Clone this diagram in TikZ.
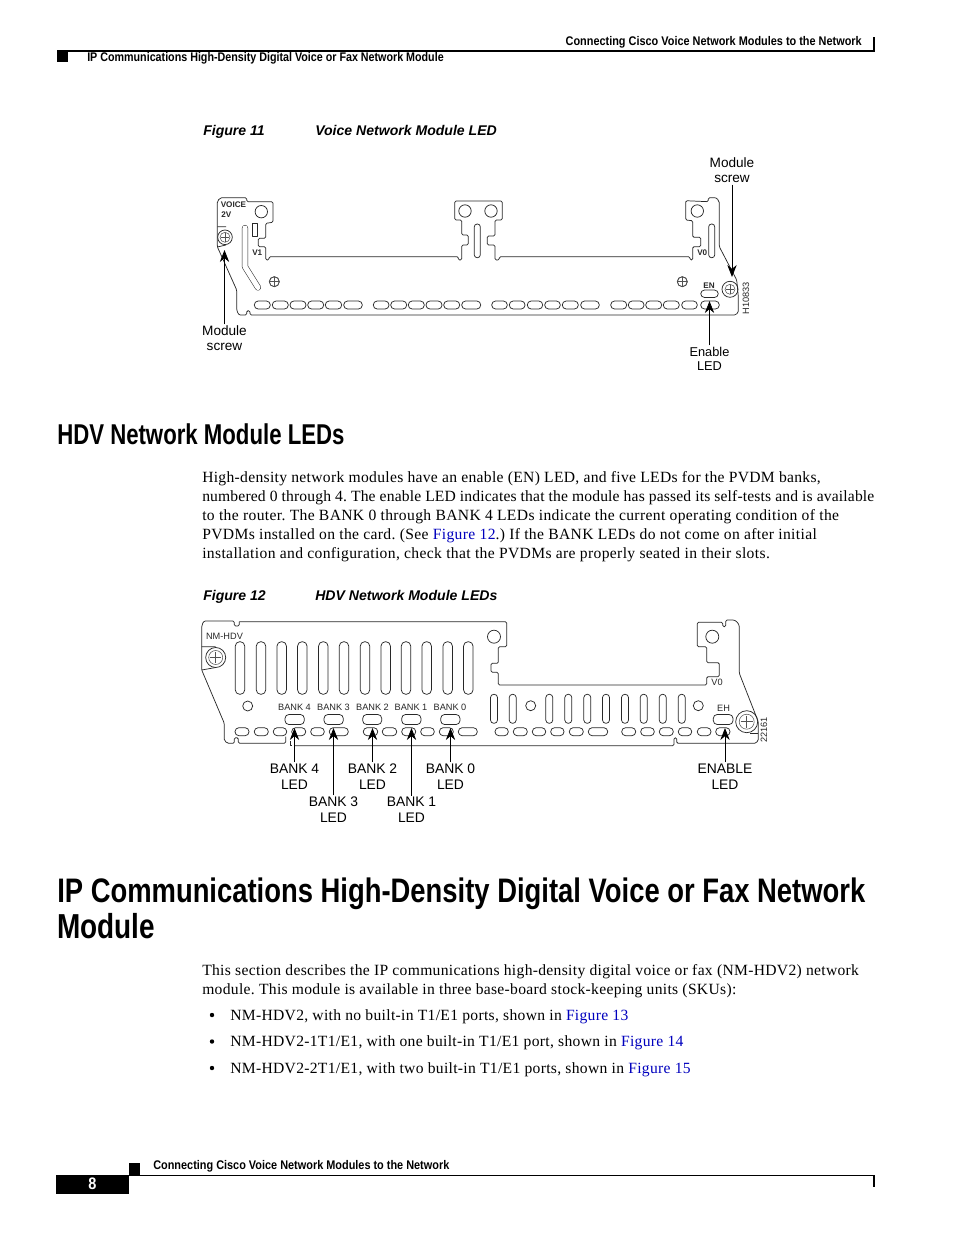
\documentclass[tikz,border=0pt]{standalone}
\usepackage{fontspec}
\usetikzlibrary{arrows.meta}
\setmainfont{Liberation Serif}
\newfontfamily\lab{Liberation Sans}
\newfontfamily\condh[FakeStretch=0.87]{Liberation Sans}
\newfontfamily\condl[FakeStretch=0.855]{Liberation Sans}
\newfontfamily\conda[FakeStretch=0.774]{Liberation Sans}
\newfontfamily\condb[FakeStretch=0.806]{Liberation Sans}
\newfontfamily\spaced[LetterSpace=2.0]{Liberation Serif}
\newfontfamily\spacedw[LetterSpace=2.3]{Liberation Serif}
\newfontfamily\spacedn[LetterSpace=1.0]{Liberation Serif}
\definecolor{linkblue}{RGB}{0,0,190}
\definecolor{inkg}{RGB}{40,40,40}
\newcommand\fs[1]{\fontsize{#1}{#1}\selectfont}
\frenchspacing
\tikzset{
 x=0.75pt,y=-0.75pt,
 body/.style={anchor=base west,inner sep=0pt,font=\spaced\frenchspacing\fs{11.7}},
 bodyw/.style={anchor=base west,inner sep=0pt,font=\spacedw\frenchspacing\fs{11.7}},
 bodyn/.style={anchor=base west,inner sep=0pt,font=\spacedn\frenchspacing\fs{11.7}},
 figcap/.style={anchor=base west,inner sep=0pt,font=\lab\bfseries\itshape\fs{10.55}},
 hdr/.style={anchor=base west,inner sep=0pt,font=\condh\bfseries\fs{9.4}},
 hdrl/.style={anchor=base west,inner sep=0pt,font=\condl\bfseries\fs{9.4}},
 headA/.style={anchor=base west,inner sep=0pt,font=\conda\bfseries\fs{21.5}},
 headB/.style={anchor=base west,inner sep=0pt,font=\condb\bfseries\fs{25.5}},
 lbl/.style={align=center,inner sep=1pt,font=\lab\fontsize{10.4}{12.2}\selectfont,text=black},
 lbls/.style={align=center,inner sep=1pt,font=\lab\fontsize{9.6}{10.5}\selectfont,text=black},
 lblm/.style={align=center,inner sep=1pt,font=\lab\fontsize{10.2}{11.3}\selectfont,text=black},
 tinylab/.style={inner sep=0pt,font=\lab\fs{6.9},text=inkg},
 tinyb/.style={inner sep=0pt,font=\lab\bfseries\fs{6.1},text=inkg},
 part/.style={draw=inkg,line width=0.55pt,line join=round},
 thinpart/.style={draw=inkg!80,line width=0.4pt},
 pointer/.style={draw=black,line width=0.6pt,-{Stealth[length=9pt,width=7pt]}},
 blk/.style={fill=black,draw=none}
}
\newcommand\pills[3]{\foreach \a/\b in {#3}{\draw[part,rounded corners=2.9pt] (\a,#1) rectangle (\b,#2);}}
\newcommand\slots[4]{\foreach \c in {#4}{\draw[part,rounded corners=#3*0.35pt] ({\c-#3/2},#1) rectangle ({\c+#3/2},#2);}}
\newcommand\screwhead[5]{%
 \draw[part] (#1,#2) circle[radius=#3];
 \draw[thinpart] (#1,#2) circle[radius=#4];
 \draw[thinpart] ({#1-#5},#2) -- ({#1+#5},#2) ({#1},{#2-#5}) -- ({#1},{#2+#5});}
\begin{document}
\begin{tikzpicture}
\useasboundingbox (0,0) rectangle (954,1235);
\fill[white] (0,0) rectangle (954,1235);
% page header
\fill[blk] (57,51) rectangle (68,62);
\draw[line width=0.9pt] (57,51) -- (875,51);
\draw[line width=0.9pt] (874,37) -- (874,51);
\node[hdr,anchor=base east] (hdrR) at (862,45) {Connecting Cisco Voice Network Modules to the Network};
\node[hdrl] (hdrL) at (87,61) {IP Communications High-Density Digital Voice or Fax Network Module};
% figure 11 caption
\node[figcap] (cap11) at (203,135) {Figure 11};
\node[figcap] (cap11t) at (315,135) {Voice Network Module LED};
% figure 11 body
\draw[part,rounded corners=1pt]
 (246.7,197.7) -- (223,197.7) to[out=180,in=90] (217.3,204) -- (217.3,246.7) -- (236.7,290) -- (236.7,306.7)
 to[out=-90,in=180] (241.7,315) -- (246.7,315) -- (246.7,310.7) -- (250,310.7) -- (250,315) -- (733,315)
 to[out=0,in=-90] (738.3,310) -- (738.3,296.7) -- (736.7,280) -- (719.3,246.7) -- (719.3,204)
 to[out=90,in=0] (713.3,197.7) -- (708.3,197.7) -- (708.3,201.7) -- (685.7,200.7) -- (685.7,220) -- (692.7,220.7)
 -- (692.7,237.3) -- (700.7,237.3) -- (700.7,246.7) -- (692.7,246.7) -- (692.7,260) -- (690,260) -- (690,256.7)
 -- (499.3,256.7) -- (499.3,260) -- (495,260) -- (495,245) -- (487.3,245) -- (487.3,236) -- (495,236) -- (495,220)
 -- (502.3,220) -- (502.3,201) -- (454.7,201) -- (454.7,220) -- (461.7,220) -- (461.7,235) -- (468.3,235)
 -- (468.3,245) -- (461.7,245) -- (461.7,260) -- (458.3,260) -- (458.3,256.7) -- (269,256.7) -- (269,260)
 -- (265.7,260) -- (265.7,246.7) -- (258.3,246.7) -- (258.3,238.3) -- (265.7,238.3) -- (265.7,223.3) -- (273,222.3)
 -- (273,201.7) -- (246.7,201.7) -- cycle;
\foreach \c/\d in {261.3/211.7,465/211,491/211,697.3/211}{\draw[part] (\c,\d) circle[radius=6.2];}
\slots{224}{257.7}{6}{477.3,711.7}
\draw[part] (252.3,223.3) rectangle (257.7,236.7);
\draw[line width=4.6pt,inkg,line cap=round,line join=round] (245,228) -- (245,266.7) -- (258,287.5);
\draw[line width=3.8pt,white,line cap=round,line join=round] (245,228) -- (245,266.7) -- (258,287.5);
\pills{301}{309}{254.3/270.3,272.3/288.3,290/306,307.7/323.7,325.3/341.7,343.7/362.3,373.3/389,390.7/406.7,408.3/424.3,426/442,443.7/459.7,461.7/480.7,491.7/507.3,509.3/525,527.3/542.7,544.7/560.3,562.3/578.3,580.7/599.3,610.7/626.7,628.3/644,645.7/661.7,663.3/679.3,681.7/697.3,700.7/719.3}
\pills{290}{297.5}{700.7/718.3}
\screwhead{225}{237.3}{7.3}{5}{4.2}
\draw[part] (217.3,226.7) -- (226,226.7) (217.3,247) -- (226,245);
\screwhead{274.3}{281.7}{5}{5}{4.6}
\screwhead{682.3}{281.7}{5}{5}{4.6}
\screwhead{730}{289.3}{8}{5}{4.2}
\node[tinyb,anchor=base west] (tVoice) at (220.5,207.5) {VOICE};
\node[tinyb,anchor=base west] (t2v) at (221,217.5) {2V};
\node[tinyb,anchor=base west] (tV1) at (252,255.5) {V1};
\node[tinyb,anchor=base west] (tV0) at (697,255.5) {V0};
\node[tinyb] (tEN) at (709,285.5) {EN};
\node[tinylab,rotate=90] (h10833) at (746,298) {H10833};
\node[lblm] (msR) at (732,170.5) {Module\\screw};
\node[lblm] (msL) at (224.5,338.5) {Module\\screw};
\node[lbls] (enL) at (709.5,358.7) {Enable\\LED};
\coordinate (msRtip) at (732,277);
\coordinate (msLtip) at (224.5,250);
\coordinate (enLtip) at (709.5,301);
\draw[pointer] (msR.south) -- (msRtip);
\draw[pointer] (msL.north) -- (msLtip);
\draw[pointer] (enL.north) -- (enLtip);
% HDV section
\node[headA] (hdvH) at (57,444) {HDV Network Module LEDs};
\node[body] (p1) at (202,482) {High-density network modules have an enable (EN) LED, and five LEDs for the PVDM banks,};
\node[bodyn] (p2) at (202,501) {numbered 0 through 4. The enable LED indicates that the module has passed its self-tests and is available};
\node[bodyw] (p3) at (202,520) {to the router. The BANK 0 through BANK 4 LEDs indicate the current operating condition of the};
\node[bodyw] (p4) at (202,539) {PVDMs installed on the card. (See {\color{linkblue}Figure 12}.) If the BANK LEDs do not come on after initial};
\node[bodyw] (p5) at (202,558) {installation and configuration, check that the PVDMs are properly seated in their slots.};
% figure 12 caption
\node[figcap] (cap12) at (203,600) {Figure 12};
\node[figcap] (cap12t) at (315,600) {HDV Network Module LEDs};
% figure 12 body
\draw[part,rounded corners=1pt]
 (239.3,621.7) -- (506.7,621.7) -- (506.7,646.7) -- (498.3,646.7) -- (498.3,663.3) -- (491,663.3) -- (491,672.3)
 -- (498.3,672.3) -- (498.3,685) -- (706.7,685) -- (706.7,676.7) -- (719.3,676.7) -- (719.3,662.7) -- (706.7,662.7)
 -- (706.7,646.7) -- (697.3,646.7) -- (697.3,622.3) -- (722.7,622.3) -- (722.7,626.7) -- (725.7,626.7) -- (725.7,620)
 -- (731.7,620) to[out=0,in=90] (739.3,628.3) -- (739.3,673.3) -- (758.3,721.7) -- (758.3,738)
 to[out=-90,in=0] (753.3,743.3) -- (676.7,743.3) -- (676.7,737.7) -- (674,737.7) -- (674,745.7) -- (295,745.7);
\draw[part] (290,741) -- (290,745.7) -- (292,745.7);
\draw[part,rounded corners=1pt]
 (285.7,736.7) -- (285.7,743.3) -- (238.3,743.3) -- (238.3,737.7) -- (234.3,737.7) -- (234.3,743.3) -- (230,743.3)
 to[out=180,in=-90] (224.3,738) -- (224.3,723.3) -- (201.7,670) -- (201.7,628.3) to[out=90,in=180] (206.7,621)
 -- (234.3,621) -- (234.3,626) -- (239.3,626) -- (239.3,621.7);
\foreach \c/\d/\r in {494/636.7/6.5,712.3/636.7/6.5,247.7/706/5,530.7/705.7/5,698.3/705.7/5}{\draw[part] (\c,\d) circle[radius=\r];}
\slots{641.7}{694.3}{9.5}{240,261,281.7,302.3,323.3,344,365,385.7,406,426.7,447.7,468.3}
\slots{694.3}{723.3}{7}{494,512.7,549.3,568.3,587.3,606,625,643.7,662.7,681.7}
\pills{727.7}{735.7}{235/249,254.3/268.3,273.3/286.7,291.7/305.7,310.7/324.3,329.3/348.3,363.3/377.7,382.3/396.7,401.7/415.7,420.7/434.3,439.3/453.3,458.3/477.3,495/508.3,513.3/527.3,532.3/545.7,550.7/564,569.3/583.3,588.3/607.7,621.7/635.7,640.7/654.3,659.3/673.3,678.3/691.7,697.3/711,715.7/730}
\pills{714.5}{724.5}{285/304.3,324/343.3,362.7/381.7,401.7/421,440.7/460,713.3/733}
\screwhead{215.7}{657.5}{10}{7}{5.5}
\draw[part] (201.7,646.7) -- (215.7,646.7) (201.7,670) -- (215.7,667.5);
\screwhead{746.7}{721.7}{11}{7.5}{6}
\draw[part] (750,733.5) -- (758.3,733.5);
\node[tinylab] (nmhdv) at (224.5,636) {NM-HDV};
\node[tinylab] (sb4) at (294.5,707.5) {BANK 4};
\node[tinylab] (sb3) at (333.5,707.5) {BANK 3};
\node[tinylab] (sb2) at (372.5,707.5) {BANK 2};
\node[tinylab] (sb1) at (411,707.5) {BANK 1};
\node[tinylab] (sb0) at (450,707.5) {BANK 0};
\node[tinylab] (sv0) at (717,682) {V0};
\node[tinylab] (seh) at (723.5,708) {EH};
\node[tinylab,rotate=90] (n22161) at (764,730) {22161};
\node[lbl] (b4) at (294.5,776.5) {BANK 4\\LED};
\node[lbl] (b2) at (372.5,776.5) {BANK 2\\LED};
\node[lbl] (b0) at (450.5,776.5) {BANK 0\\LED};
\node[lbl] (b3) at (333.5,810) {BANK 3\\LED};
\node[lbl] (b1) at (411.5,810) {BANK 1\\LED};
\node[lbl] (be) at (725,776.5) {ENABLE\\LED};
\coordinate (b4t) at (294.5,728);
\coordinate (b3t) at (333.5,728);
\coordinate (b2t) at (372.5,728);
\coordinate (b1t) at (411.5,728);
\coordinate (b0t) at (450.5,728);
\coordinate (bet) at (725,728);
\foreach \p/\q in {b4/b4t,b3/b3t,b2/b2t,b1/b1t,b0/b0t,be/bet}{\draw[pointer] (\p.north) -- (\q);}
% IP section
\node[headB] (ipH1) at (57,902) {IP Communications High-Density Digital Voice or Fax Network};
\node[headB,font=\condb\bfseries\fs{26}] (ipH2) at (57,938) {Module};
\node[body] (q1) at (202,975) {This section describes the IP communications high-density digital voice or fax (NM-HDV2) network};
\node[body] (q2) at (202,994) {module. This module is available in three base-board stock-keeping units (SKUs):};
\foreach \yy in {1015,1041.5,1068}{\fill (212,\yy) circle[radius=2.2];}
\node[body] (r1) at (230,1020) {NM-HDV2, with no built-in T1/E1 ports, shown in {\color{linkblue}Figure 13}};
\node[body] (r2) at (230,1046.5) {NM-HDV2-1T1/E1, with one built-in T1/E1 port, shown in {\color{linkblue}Figure 14}};
\node[body] (r3) at (230,1073) {NM-HDV2-2T1/E1, with two built-in T1/E1 ports, shown in {\color{linkblue}Figure 15}};
% footer
\fill[blk] (129,1163) rectangle (140,1175);
\fill[blk] (56,1175) rectangle (129,1194);
\draw[line width=0.9pt] (129,1175.5) -- (875,1175.5);
\draw[line width=0.9pt] (874,1175.5) -- (874,1187);
\node[inner sep=0pt,text=white,font=\condh\bfseries\fs{12.5}] (pg) at (92.5,1184) {8};
\node[hdr] (ftr) at (153,1169) {Connecting Cisco Voice Network Modules to the Network};
\end{tikzpicture}
\end{document}
